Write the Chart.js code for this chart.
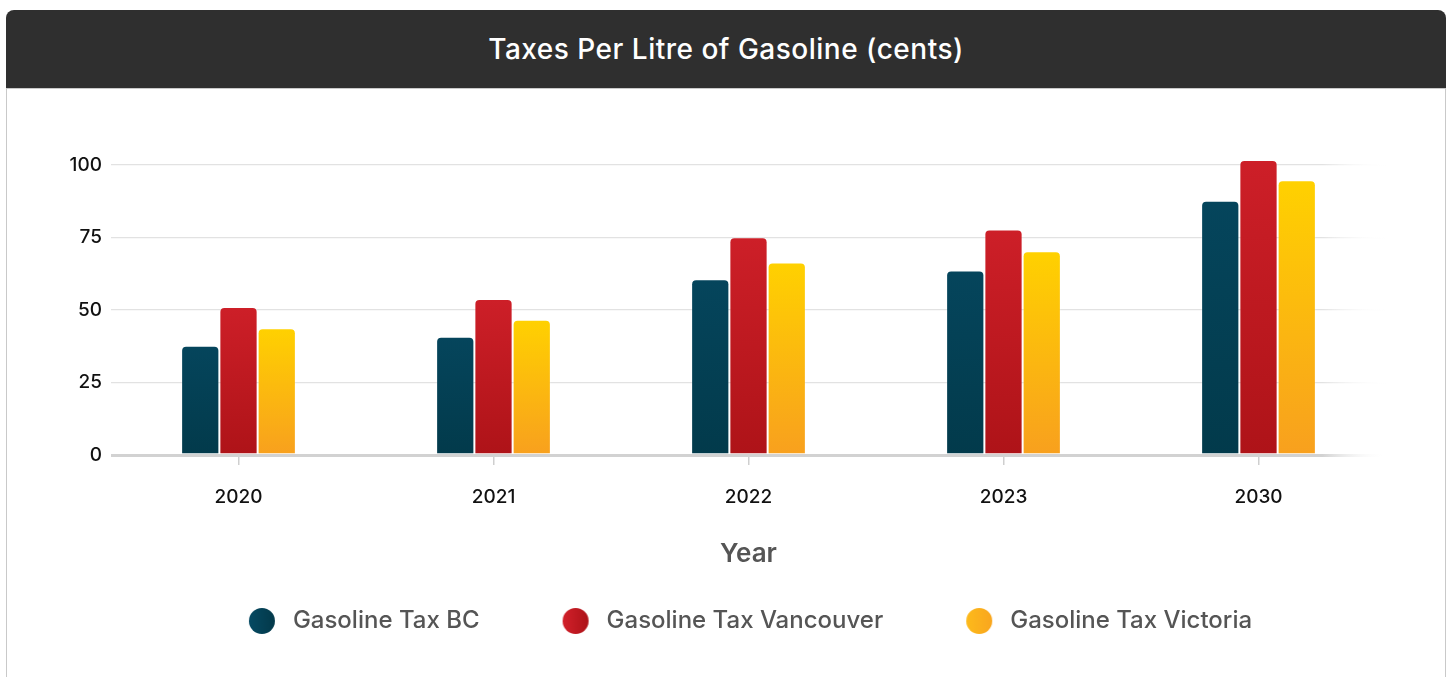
<!DOCTYPE html>
<html lang="en">
<head>
<meta charset="UTF-8">
<title>Taxes Per Litre of Gasoline (cents)</title>
<script src="https://cdn.jsdelivr.net/npm/chart.js"></script>
<style>
  body { margin: 0; background: #fff; font-family: Inter, "Noto Sans", sans-serif; }
  .head {
    position: absolute; left: 6px; top: 10px; width: 1440px; height: 78px;
    background: #2f2f2f; border-radius: 8px 8px 0 0;
    color: #fff; font-size: 28px; font-weight: 500; letter-spacing: 0.5px;
    display: flex; align-items: center; justify-content: center;
  }
  .body {
    position: absolute; left: 6px; top: 88px; width: 1438px; height: 640px;
    border: 1px solid #c9c9c9; border-bottom: none;
  }
  .chart-box { position: relative; width: 1438px; height: 554px; }
</style>
</head>
<body>
<div class="head">Taxes Per Litre of Gasoline (cents)</div>
<div class="body">
  <div class="chart-box"><canvas id="chart"></canvas></div>
</div>

<script>
const years = ['2020', '2021', '2022', '2023', '2030'];
const taxBC = [37.7, 40.8, 60.6, 63.6, 87.7];
const taxVancouver = [51.0, 53.8, 75.1, 77.8, 101.7];
const taxVictoria = [43.7, 46.6, 66.4, 70.3, 94.7];
const yTicks = [0, 25, 50, 75, 100];

const LEGEND_BOX = 96;

// round legend marker with a left-to-right gradient, sitting at the right end of the box
function legendDot(c1, c2) {
  const cv = document.createElement('canvas');
  cv.width = LEGEND_BOX;
  cv.height = 28;
  const g = cv.getContext('2d');
  const cx = LEGEND_BOX - 19, cy = 14;
  const grad = g.createLinearGradient(cx - 13, 0, cx + 13, 0);
  grad.addColorStop(0, c1);
  grad.addColorStop(1, c2);
  g.fillStyle = grad;
  g.beginPath();
  g.arc(cx, cy, 13, 0, Math.PI * 2);
  g.fill();
  return cv;
}

// vertical gradient over each bar, top colour at the bar top
function barFill(top, bottom) {
  return ctx => {
    const chart = ctx.chart;
    const y = chart.scales.y;
    if (ctx.type !== 'data' || !y) return top;
    const y0 = y.getPixelForValue(ctx.raw);
    const y1 = y.getPixelForValue(0);
    if (!isFinite(y0) || !isFinite(y1) || y0 === y1) return top;
    const g = chart.ctx.createLinearGradient(0, y0, 0, y1);
    g.addColorStop(0, top);
    g.addColorStop(1, bottom);
    return g;
  };
}

// grid lines fade out towards the right edge
function gridColor(ctx) {
  const chart = ctx.chart;
  const a = chart.chartArea;
  const base = ctx.tick && ctx.tick.value === 0 ? '#d2d2d2' : '#e2e2e2';
  if (!a) return base;
  const g = chart.ctx.createLinearGradient(a.left, 0, a.right, 0);
  g.addColorStop(0, base);
  g.addColorStop(0.95, base);
  g.addColorStop(1, 'rgba(255,255,255,0)');
  return g;
}

const barStyle = {
  borderRadius: 5,
  borderWidth: 1,
  borderColor: 'rgba(255,255,255,0.22)',
  borderSkipped: 'bottom',
  categoryPercentage: 0.45,
  barPercentage: 1
};

new Chart(document.getElementById('chart'), {
  type: 'bar',
  data: {
    labels: years,
    datasets: [
      { label: 'Gasoline Tax BC', data: taxBC, ...barStyle,
        backgroundColor: barFill('#05455c', '#023a4b'),
        pointStyle: legendDot('#064a63', '#03394a') },
      { label: 'Gasoline Tax Vancouver', data: taxVancouver, ...barStyle,
        backgroundColor: barFill('#cd1f28', '#ae1318'),
        pointStyle: legendDot('#d2212b', '#ad1218') },
      { label: 'Gasoline Tax Victoria', data: taxVictoria, ...barStyle,
        backgroundColor: barFill('#ffd100', '#f8a01e'),
        pointStyle: legendDot('#fdba1b', '#f9a61f') }
    ]
  },
  options: {
    responsive: true,
    maintainAspectRatio: false,
    animation: false,
    layout: { padding: { top: 47, left: 44, right: 59, bottom: 0 } },
    scales: {
      x: {
        afterFit: s => { s.height = 135; },
        grid: { display: true, drawOnChartArea: false, drawTicks: true, tickLength: 10,
                offset: false, color: '#cfcfcf', lineWidth: 1.5 },
        border: { display: false },
        ticks: { color: '#111', padding: 21, font: { family: 'Inter', size: 19, weight: '500' } },
        title: { display: true, text: 'Year', color: '#555',
                 padding: { top: 0, bottom: 20 },
                 font: { family: 'Inter', size: 26, weight: '600' } }
      },
      y: {
        min: 0,
        max: 110,
        afterFit: s => { s.width = 60; },
        afterBuildTicks: s => { s.ticks = yTicks.map(v => ({ value: v })); },
        grid: { drawTicks: false, color: gridColor,
                lineWidth: ctx => (ctx.tick && ctx.tick.value === 0 ? 3 : 1.2) },
        border: { display: false },
        ticks: { color: '#111', padding: 9, font: { family: 'Inter', size: 19, weight: '500' } }
      }
    },
    plugins: {
      legend: {
        position: 'bottom',
        labels: {
          usePointStyle: true,
          pointStyleWidth: LEGEND_BOX,
          padding: 19,
          color: '#555',
          font: { family: 'Inter', size: 24, weight: '500' }
        }
      },
      tooltip: { enabled: false }
    }
  }
});
</script>
</body>
</html>
